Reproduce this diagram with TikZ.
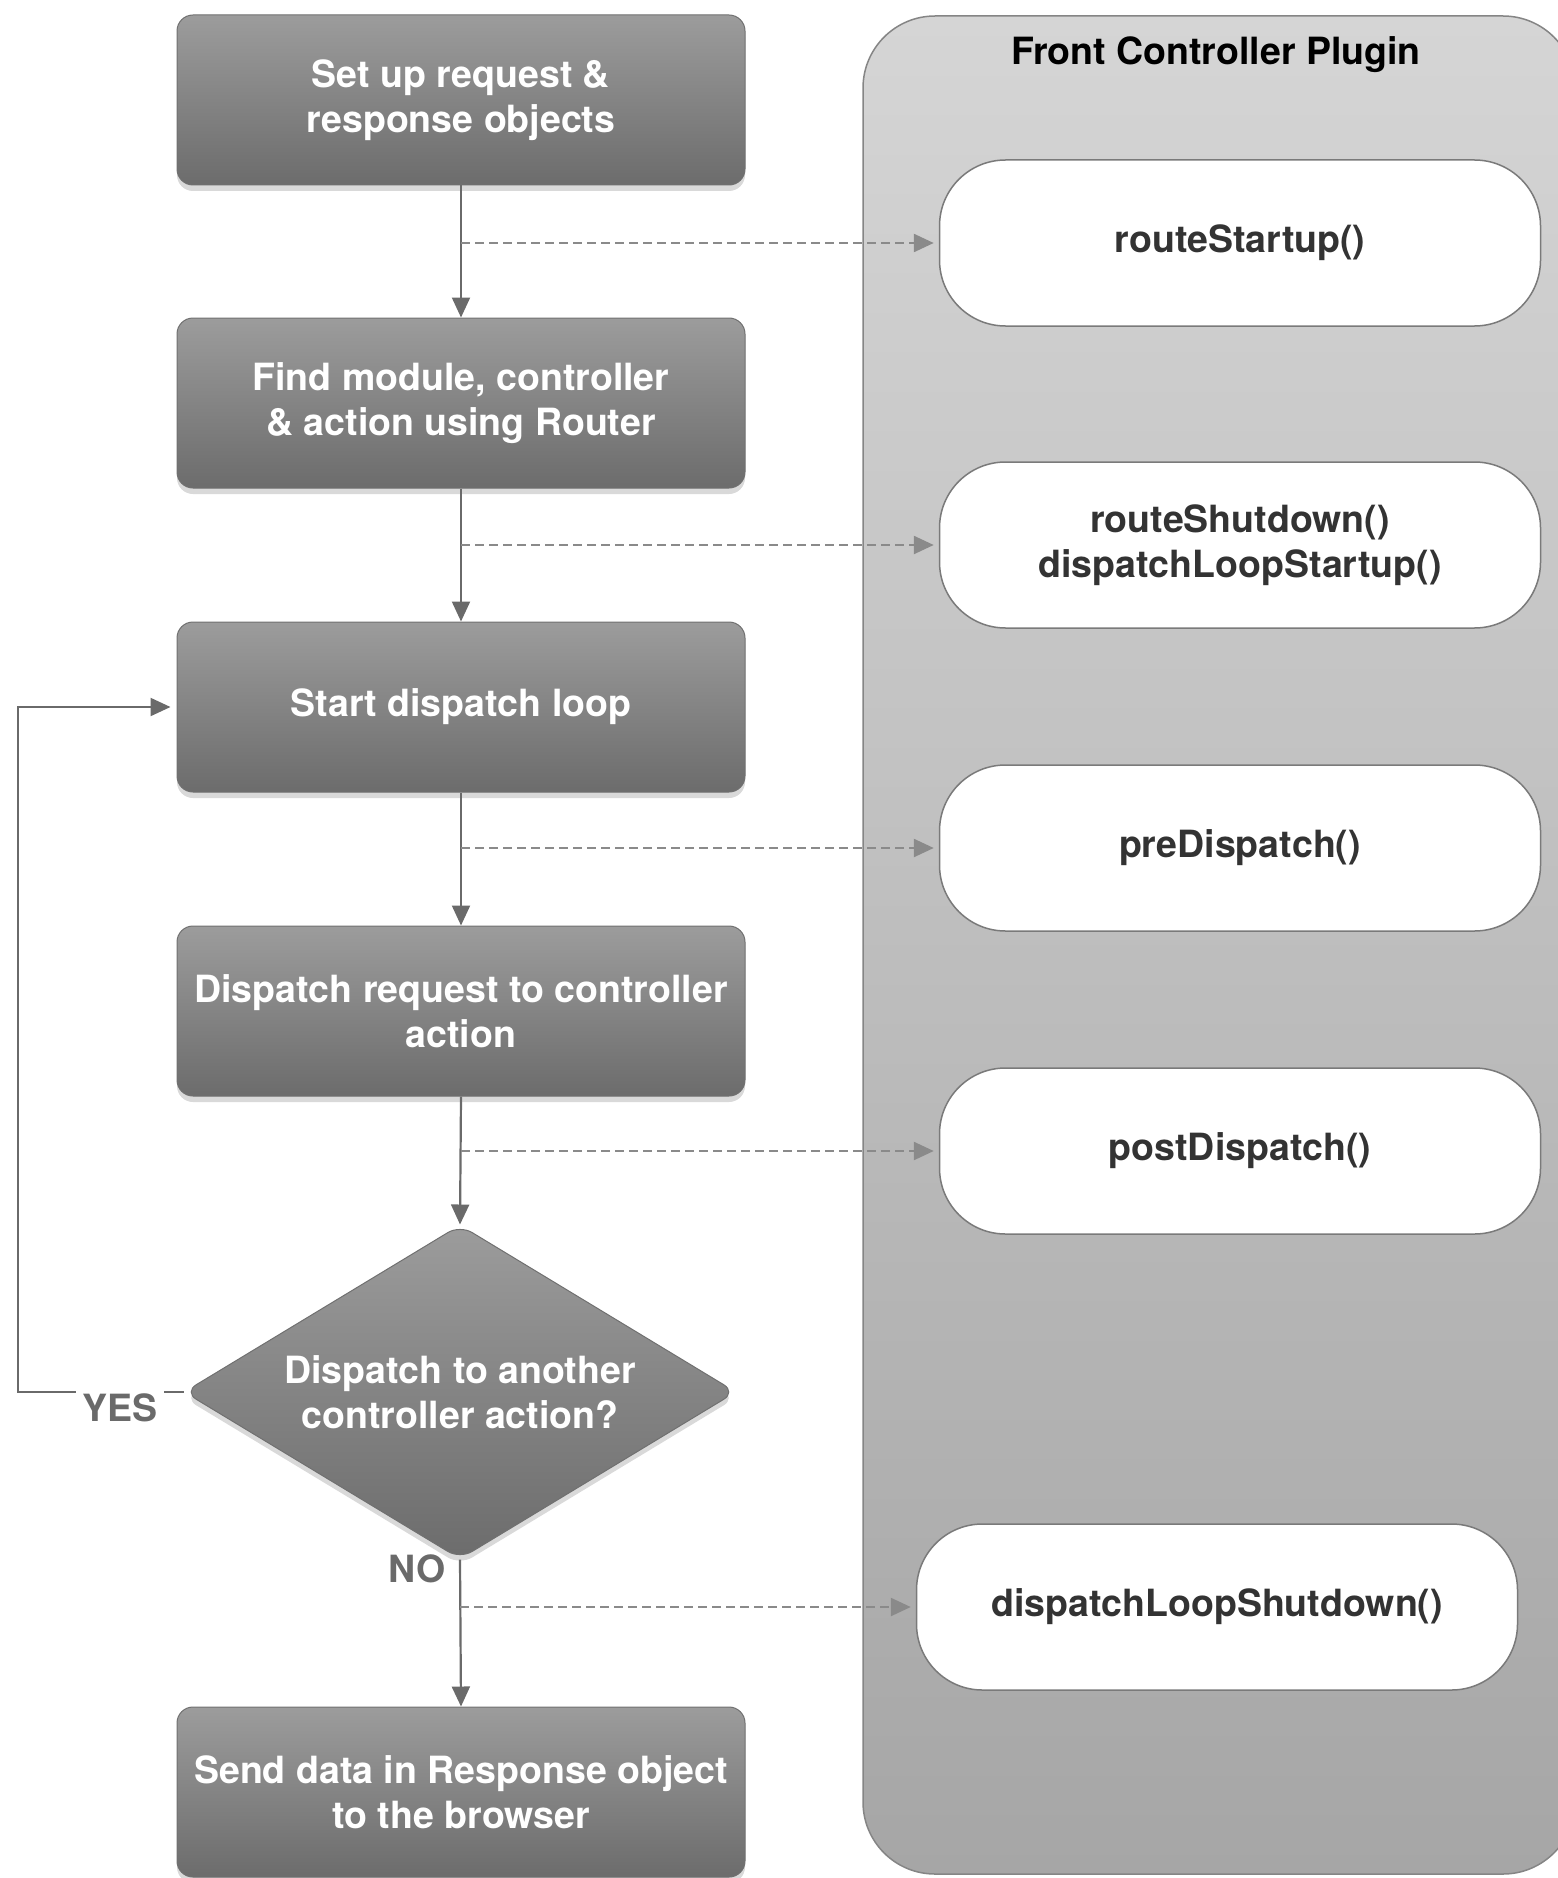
\documentclass[tikz,border=0pt]{standalone}
\usepackage{fontspec}
\setmainfont{TeX Gyre Heros}
\usetikzlibrary{arrows.meta,shapes.geometric,shadows}
\definecolor{boxtop}{HTML}{9C9C9C}
\definecolor{boxbot}{HTML}{6C6C6C}
\definecolor{boxedge}{HTML}{707070}
\definecolor{paneltop}{HTML}{D5D5D5}
\definecolor{panelbot}{HTML}{A6A6A6}
\definecolor{paneledge}{HTML}{858585}
\definecolor{pilledge}{HTML}{7A7A7A}
\definecolor{pilltext}{HTML}{333333}
\definecolor{flowgray}{HTML}{6A6A6A}
\definecolor{dashgray}{HTML}{8A8A8A}
\definecolor{labelgray}{HTML}{6A6A6A}
\begin{document}
\begin{tikzpicture}[x=1pt,y=-1pt,
  font=\fontsize{37.5}{45}\selectfont\bfseries,
  procbox/.style={rectangle, rounded corners=16pt, minimum width=568pt, minimum height=170pt,
    inner sep=0pt, align=center, text=white, draw=boxedge, line width=1pt,
    top color=boxtop, bottom color=boxbot,
    drop shadow={opacity=0.3, shadow xshift=0pt, shadow yshift=-6pt}},
  decision/.style={diamond, shape aspect=1.66, minimum width=552pt, minimum height=334pt,
    inner sep=0pt, align=center, text=white, draw=boxedge, line width=1pt, rounded corners=14pt,
    top color=boxtop, bottom color=boxbot,
    drop shadow={opacity=0.3, shadow xshift=0pt, shadow yshift=-6pt}},
  pill/.style={rectangle, rounded corners=66pt, minimum width=601pt, minimum height=166pt,
    inner sep=0pt, align=center, text=pilltext, draw=pilledge, line width=1.5pt, fill=white},
  panelbox/.style={rectangle, rounded corners=72pt, minimum width=712pt, minimum height=1858pt,
    inner sep=0pt, draw=paneledge, line width=1.5pt, top color=paneltop, bottom color=panelbot},
  flow/.style={draw=flowgray, line width=2.2pt, -{Triangle[width=18pt,length=20pt]}},
  dflow/.style={draw=dashgray, line width=2.5pt, dash pattern=on 9pt off 5pt,
    -{Triangle[width=18pt,length=20pt]}, shorten >=5pt},
  lbl/.style={text=labelgray, inner sep=0pt}
]
\useasboundingbox (0,0) rectangle (1557,1878);

% plugin panel
\node[panelbox] (fcp) at (1219,945) {};
\node[text=black, inner sep=0pt] (title) at (1216,55) {Front Controller Plugin};

% process boxes
\node[procbox] (b1) at (461,100) {Set up request \&\\response objects};
\node[procbox] (b2) at (461,403) {Find module, controller\\\& action using Router};
\node[procbox] (b3) at (461,707) {Start dispatch loop};
\node[procbox] (b4) at (461,1011) {Dispatch request to controller\\action};
\node[decision] (dia) at (460,1392) {Dispatch to another\\controller action?};
\node[procbox] (b5) at (461,1792) {Send data in Response object\\to the browser};

% plugin hooks
\node[pill] (p1) at (1240,243) {routeStartup()};
\node[pill] (p2) at (1240,545) {routeShutdown()\\dispatchLoopStartup()};
\node[pill] (p3) at (1240,848) {preDispatch()};
\node[pill] (p4) at (1240,1151) {postDispatch()};
\node[pill] (p5) at (1217,1607) {dispatchLoopShutdown()};

% main flow
\draw[flow] (b1.south) -- (b2.north);
\draw[flow] (b2.south) -- (b3.north);
\draw[flow] (b3.south) -- (b4.north);
\draw[flow] (b4.south) -- (dia.north);
\draw[flow] (dia.south) -- (b5.north);

% hook calls
\coordinate (c1) at (b1.south |- p1.west);
\coordinate (c2) at (b2.south |- p2.west);
\coordinate (c3) at (b3.south |- p3.west);
\coordinate (c4) at (b4.south |- p4.west);
\coordinate (c5) at (dia.south |- p5.west);
\draw[dflow] (c1) -- (p1.west);
\draw[dflow] (c2) -- (p2.west);
\draw[dflow] (c3) -- (p3.west);
\draw[dflow] (c4) -- (p4.west);
\draw[dflow] (c5) -- (p5.west);

% loop back
\coordinate (lp) at (18,1392);
\draw[flow, shorten >=6pt] (dia.west) -- (lp) |- (b3.west);
\node[lbl, fill=white, inner xsep=6pt, inner ysep=10pt] (yes) at (120,1408) {YES};
\node[lbl] (no) at (417,1569) {NO};
\end{tikzpicture}
\end{document}
